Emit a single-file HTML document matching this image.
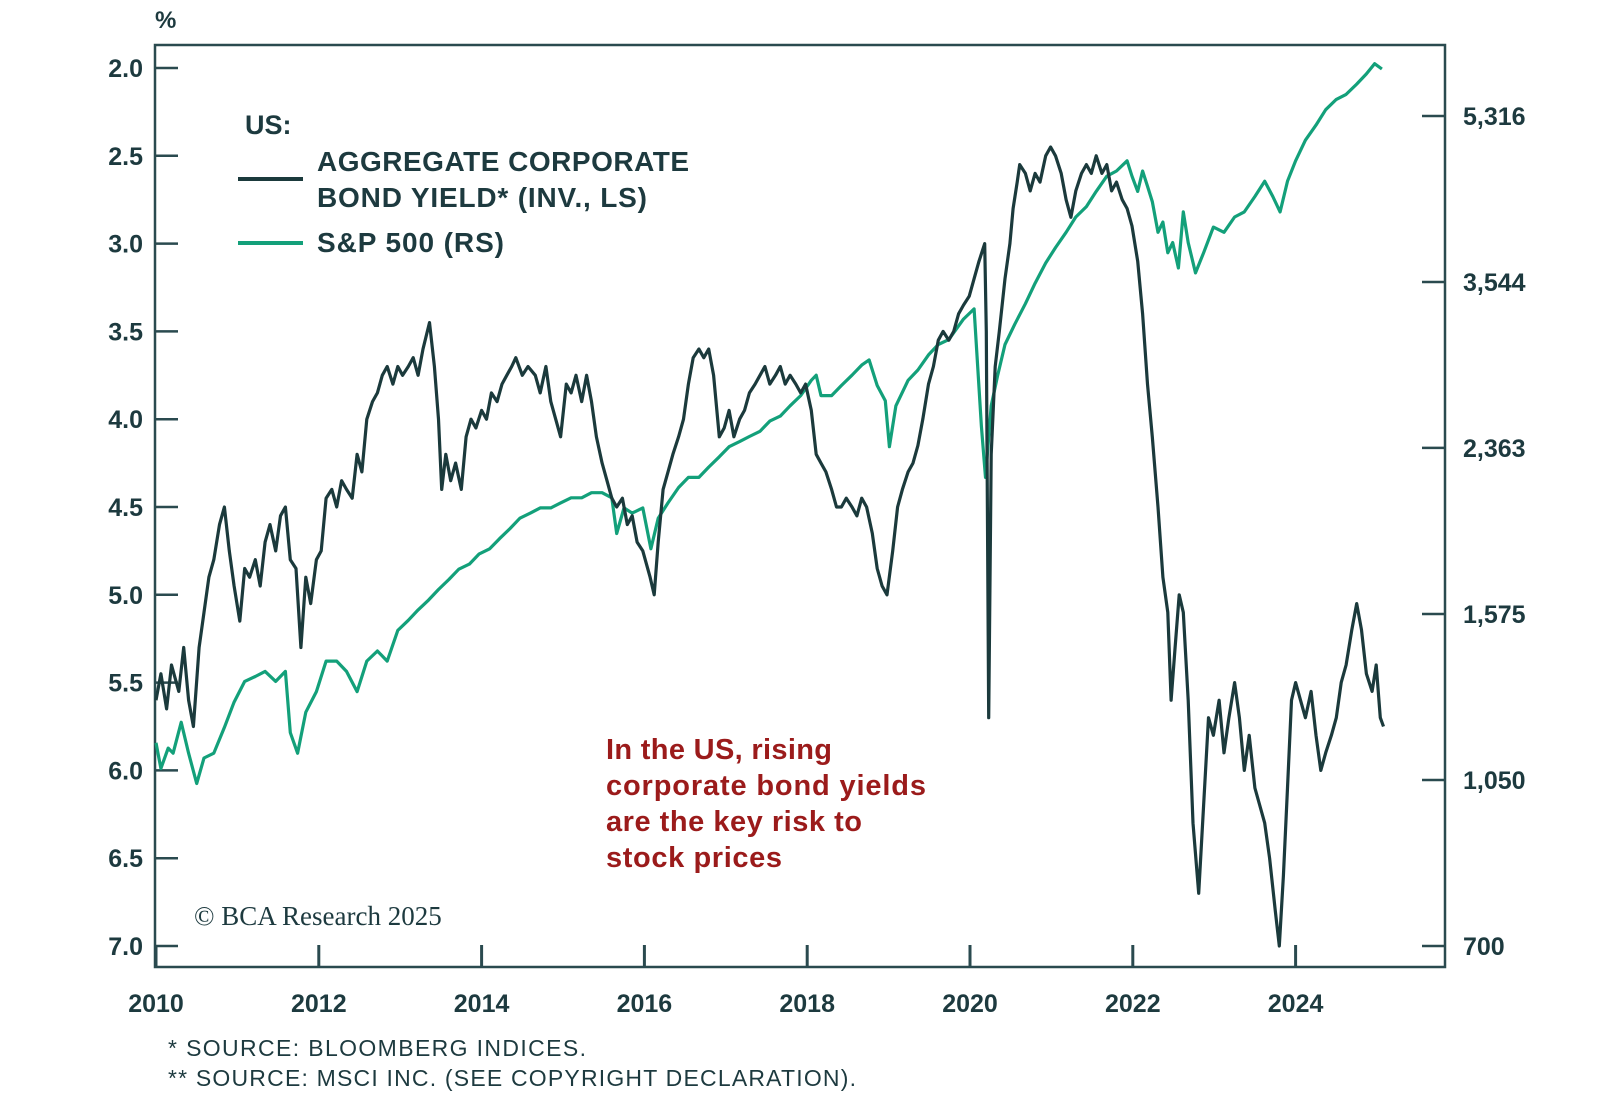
<!DOCTYPE html>
<html><head><meta charset="utf-8"><style>
body{margin:0;background:#fff;}
svg{display:block;font-family:"Liberation Sans",sans-serif;}
</style></head><body>
<svg width="1600" height="1107" viewBox="0 0 1600 1107">
<g id="axes"></g>
<g id="series"></g>
<text x="155" y="28" font-size="24" font-weight="bold" fill="#1d3a3f">%</text>
<text x="245" y="134" font-size="27" font-weight="bold" fill="#1d3a3f">US:</text>
<line x1="238" y1="179" x2="303" y2="179" stroke="#1b3a3c" stroke-width="4"/>
<text x="317" y="171" font-size="28" font-weight="bold" fill="#1d3a3f" textLength="372">AGGREGATE CORPORATE</text>
<text x="317" y="207" font-size="28" font-weight="bold" fill="#1d3a3f" textLength="330">BOND YIELD* (INV., LS)</text>
<line x1="238" y1="243" x2="303" y2="243" stroke="#13a07a" stroke-width="4"/>
<text x="317" y="252" font-size="28" font-weight="bold" fill="#1d3a3f" textLength="187">S&amp;P 500 (RS)</text>
<g font-size="29" font-weight="bold" fill="#9b1b1b">
<text x="606" y="759" textLength="226">In the US, rising</text>
<text x="606" y="795" textLength="320">corporate bond yields</text>
<text x="606" y="831" textLength="256">are the key risk to</text>
<text x="606" y="867" textLength="176">stock prices</text>
</g>
<text x="194" y="925" font-size="27" fill="#1d3a3f" font-family="Liberation Serif,serif">© BCA Research 2025</text>
<text x="168" y="1056" font-size="23" fill="#1d3a3f" textLength="418">* SOURCE: BLOOMBERG INDICES.</text>
<text x="168" y="1086" font-size="23" fill="#1d3a3f" textLength="688">** SOURCE: MSCI INC. (SEE COPYRIGHT DECLARATION).</text>
</svg>
<script>
const leftTicks=[2.0,2.5,3.0,3.5,4.0,4.5,5.0,5.5,6.0,6.5,7.0];
const rightTicks=[700,1050,1575,2363,3544,5316];
const rightLabels=["700","1,050","1,575","2,363","3,544","5,316"];
const yearTicks=[2010,2012,2014,2016,2018,2020,2022,2024];
const yieldYears=[0,.06,.13,.19,.28,.34,.40,.46,.53,.59,.65,.71,.78,.84,.90,.96,1.03,1.09,1.15,1.22,1.28,1.34,1.40,1.47,1.53,1.59,1.65,1.72,1.78,1.84,1.90,1.97,2.03,2.09,2.16,2.22,2.28,2.34,2.41,2.47,2.53,2.59,2.66,2.72,2.78,2.84,2.91,2.97,3.03,3.10,3.16,3.22,3.28,3.36,3.42,3.47,3.51,3.56,3.62,3.68,3.75,3.81,3.87,3.93,4.00,4.06,4.12,4.19,4.25,4.31,4.37,4.42,4.50,4.57,4.66,4.72,4.79,4.85,4.91,4.97,5.04,5.10,5.16,5.23,5.29,5.35,5.41,5.48,5.54,5.60,5.66,5.73,5.79,5.85,5.91,5.98,6.07,6.12,6.17,6.23,6.29,6.35,6.42,6.48,6.54,6.60,6.67,6.73,6.79,6.85,6.92,6.98,7.04,7.10,7.17,7.23,7.29,7.36,7.42,7.48,7.54,7.61,7.67,7.73,7.79,7.86,7.92,7.98,8.05,8.11,8.17,8.23,8.30,8.36,8.42,8.48,8.55,8.61,8.67,8.73,8.80,8.86,8.92,8.98,9.05,9.11,9.17,9.24,9.30,9.36,9.42,9.49,9.55,9.61,9.67,9.74,9.80,9.86,9.92,9.99,10.05,10.11,10.18,10.20,10.23,10.26,10.31,10.36,10.43,10.49,10.53,10.58,10.61,10.68,10.74,10.80,10.86,10.93,10.99,11.05,11.12,11.18,11.24,11.30,11.37,11.43,11.49,11.55,11.62,11.68,11.74,11.80,11.87,11.93,11.99,12.06,12.12,12.18,12.24,12.31,12.37,12.43,12.47,12.52,12.57,12.62,12.68,12.74,12.81,12.87,12.93,12.99,13.06,13.12,13.18,13.25,13.31,13.37,13.43,13.50,13.56,13.62,13.68,13.75,13.80,13.85,13.90,13.95,14.00,14.06,14.12,14.19,14.25,14.31,14.37,14.44,14.50,14.56,14.62,14.69,14.75,14.81,14.87,14.94,14.99,15.04,15.08];
const yieldValues=[5.6,5.45,5.65,5.4,5.55,5.3,5.6,5.75,5.3,5.1,4.9,4.8,4.6,4.5,4.75,4.95,5.15,4.85,4.9,4.8,4.95,4.7,4.6,4.75,4.55,4.5,4.8,4.85,5.3,4.9,5.05,4.8,4.75,4.45,4.4,4.5,4.35,4.4,4.45,4.2,4.3,4.0,3.9,3.85,3.75,3.7,3.8,3.7,3.75,3.7,3.65,3.75,3.6,3.45,3.7,4.0,4.4,4.2,4.35,4.25,4.4,4.1,4.0,4.05,3.95,4.0,3.85,3.9,3.8,3.75,3.7,3.65,3.75,3.7,3.75,3.85,3.7,3.9,4.0,4.1,3.8,3.85,3.75,3.9,3.75,3.9,4.1,4.25,4.35,4.45,4.5,4.45,4.6,4.55,4.7,4.75,4.9,5.0,4.7,4.4,4.3,4.2,4.1,4.0,3.8,3.65,3.6,3.65,3.6,3.75,4.1,4.05,3.95,4.1,4.0,3.95,3.85,3.8,3.75,3.7,3.8,3.75,3.7,3.8,3.75,3.8,3.85,3.8,3.95,4.2,4.25,4.3,4.4,4.5,4.5,4.45,4.5,4.55,4.45,4.5,4.65,4.85,4.95,5.0,4.75,4.5,4.4,4.3,4.25,4.15,4.0,3.8,3.7,3.55,3.5,3.55,3.5,3.4,3.35,3.3,3.2,3.1,3.0,3.5,5.7,4.2,3.7,3.5,3.2,3.0,2.8,2.65,2.55,2.6,2.7,2.6,2.65,2.5,2.45,2.5,2.6,2.75,2.85,2.7,2.6,2.55,2.6,2.5,2.6,2.55,2.7,2.65,2.75,2.8,2.9,3.1,3.4,3.8,4.1,4.5,4.9,5.1,5.6,5.3,5.0,5.1,5.6,6.3,6.7,6.2,5.7,5.8,5.6,5.9,5.7,5.5,5.7,6.0,5.8,6.1,6.2,6.3,6.5,6.8,7.0,6.6,6.1,5.6,5.5,5.6,5.7,5.55,5.8,6.0,5.9,5.8,5.7,5.5,5.4,5.2,5.05,5.2,5.45,5.55,5.4,5.7,5.75];
const spYears=[0,.06,.15,.21,.31,.40,.50,.59,.71,.84,.96,1.09,1.22,1.34,1.47,1.59,1.65,1.74,1.84,1.97,2.09,2.22,2.34,2.47,2.59,2.72,2.84,2.97,3.10,3.22,3.35,3.47,3.60,3.72,3.85,3.97,4.10,4.22,4.35,4.47,4.60,4.72,4.85,4.97,5.10,5.23,5.35,5.48,5.60,5.66,5.75,5.85,5.98,6.08,6.17,6.29,6.42,6.54,6.67,6.79,6.92,7.04,7.17,7.29,7.42,7.54,7.67,7.79,7.92,8.05,8.11,8.17,8.30,8.42,8.55,8.67,8.76,8.86,8.96,9.01,9.09,9.24,9.36,9.49,9.61,9.74,9.92,10.05,10.14,10.19,10.26,10.34,10.43,10.55,10.68,10.80,10.93,11.05,11.18,11.30,11.43,11.55,11.68,11.80,11.93,11.99,12.06,12.12,12.18,12.24,12.31,12.37,12.43,12.49,12.56,12.62,12.68,12.77,12.87,12.99,13.12,13.25,13.37,13.50,13.62,13.72,13.81,13.90,14.00,14.12,14.25,14.37,14.50,14.62,14.75,14.87,14.97,15.06];
const spValues=[1150,1080,1135,1121,1209,1121,1041,1108,1121,1194,1270,1336,1352,1369,1336,1369,1179,1121,1239,1303,1404,1404,1369,1303,1404,1439,1404,1513,1551,1591,1630,1672,1714,1757,1779,1824,1847,1893,1941,1990,2015,2041,2041,2066,2092,2092,2118,2118,2092,1917,2041,2015,2041,1847,1990,2066,2145,2199,2199,2255,2312,2370,2400,2430,2461,2523,2554,2619,2685,2787,2822,2685,2685,2752,2822,2893,2930,2752,2652,2370,2619,2787,2858,2966,3042,3079,3237,3318,2491,2199,2619,2822,3042,3197,3361,3533,3712,3854,4001,4154,4260,4421,4589,4647,4765,4589,4421,4647,4478,4313,4001,4102,3806,3902,3667,4206,3902,3623,3806,4052,4001,4154,4206,4367,4533,4367,4206,4533,4765,5010,5199,5398,5536,5603,5746,5891,6040,5962];

const NS='http://www.w3.org/2000/svg';
const X0=156,PX=81.4,L=155,R=1445,T=45,B=967;
const xS=t=>X0+t*PX;
const yL=v=>68+(v-2)*175.6;
const yR=v=>946-166*Math.log(v/700)/Math.log(1.5);
const C='#1d3a3f';
function mk(tag,attrs,parent){const e=document.createElementNS(NS,tag);for(const k in attrs)e.setAttribute(k,attrs[k]);parent.appendChild(e);return e;}
const ax=document.getElementById('axes');
const frame=mk('rect',{x:L,y:T,width:R-L,height:B-T,fill:'none',stroke:'#2a4a4f','stroke-width':2.5},ax);


leftTicks.forEach(v=>{
  const y=yL(v);
  const l=mk('line',{x1:L,y1:y,x2:L+23,y2:y,stroke:'#2a4a4f','stroke-width':2.5},ax);
  
  
  const t=mk('text',{x:143,y:y+9,'text-anchor':'end','font-size':25,'font-weight':'bold',fill:C},ax);
  t.textContent=v.toFixed(1);
  
  
});
rightTicks.forEach((v,i)=>{
  const y=yR(v);
  const l=mk('line',{x1:R-23,y1:y,x2:R,y2:y,stroke:'#2a4a4f','stroke-width':2.5},ax);
  
  
  const t=mk('text',{x:R+18,y:y+9,'font-size':25,'font-weight':'bold',fill:C},ax);
  t.textContent=rightLabels[i];
  
  
});
yearTicks.forEach(yr=>{
  const x=xS(yr-2010);
  const l=mk('line',{x1:x,y1:B-22,x2:x,y2:B,stroke:'#2a4a4f','stroke-width':3},ax);
  
  
  const t=mk('text',{x:x,y:1012,'text-anchor':'middle','font-size':25,'font-weight':'bold',fill:C},ax);
  t.textContent=yr;
  
  
});
const sr=document.getElementById('series');
const spPts=spYears.map((t,i)=>xS(t).toFixed(1)+','+yR(spValues[i]).toFixed(1)).join(' ');
const sp=mk('polyline',{points:spPts,fill:'none',stroke:'#13a07a','stroke-width':3.2,'stroke-linejoin':'round'},sr);


const yPts=yieldYears.map((t,i)=>xS(t).toFixed(1)+','+yL(yieldValues[i]).toFixed(1)).join(' ');
const yl=mk('polyline',{points:yPts,fill:'none',stroke:'#1b3a3c','stroke-width':3.2,'stroke-linejoin':'round'},sr);


</script>
</body></html>
